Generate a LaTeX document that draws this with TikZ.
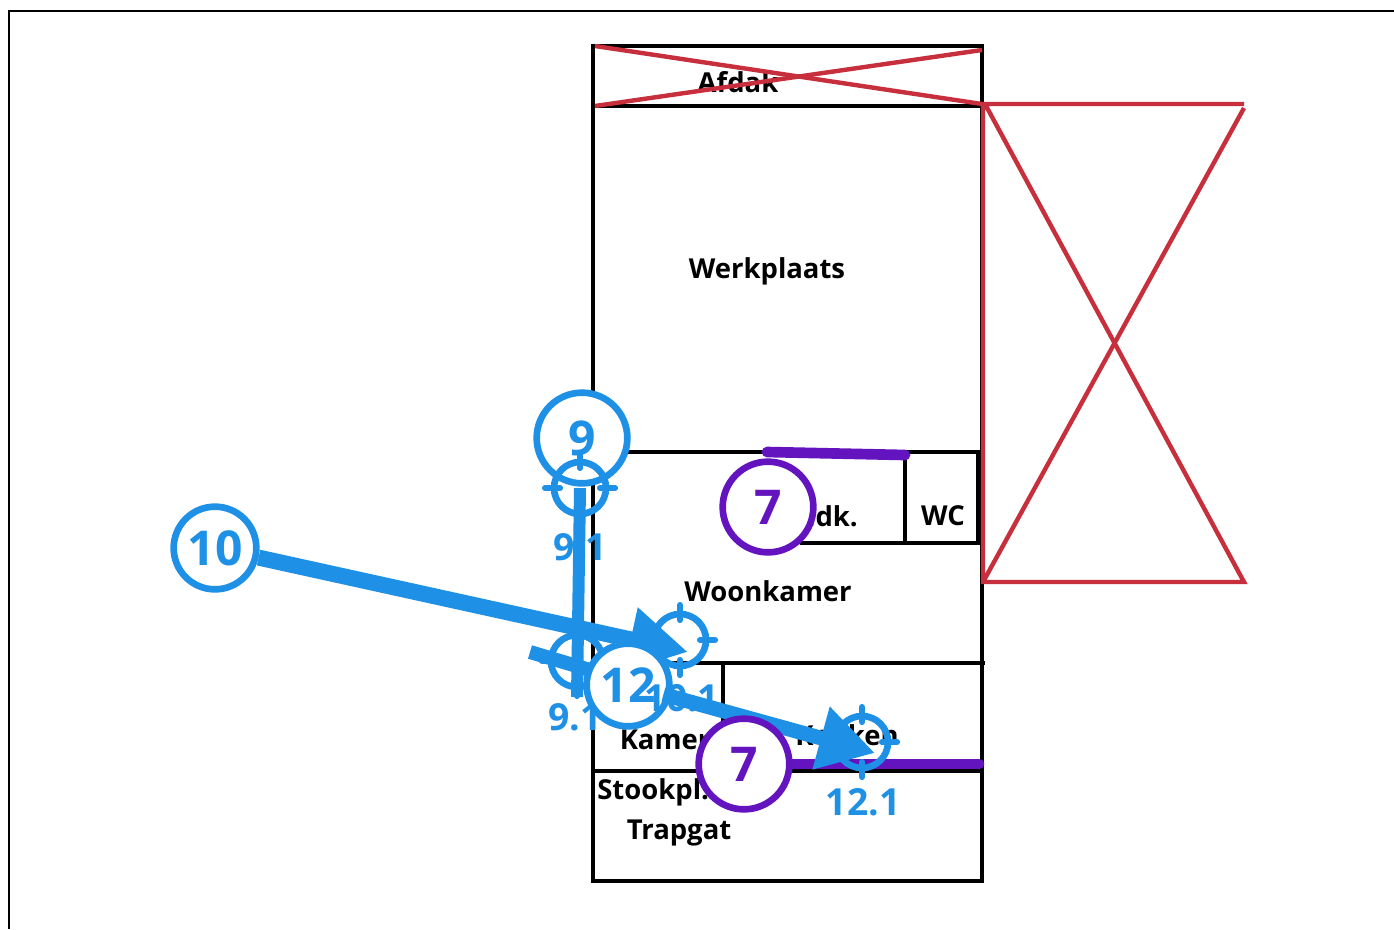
\documentclass[tikz,border=0pt]{standalone}
\usepackage{fontspec}
\setmainfont{Open Sans}
\usetikzlibrary{arrows.meta}
\definecolor{bl}{HTML}{1E90E6}
\definecolor{pu}{HTML}{6414BE}
\definecolor{rd}{HTML}{C62F3B}
\tikzset{
 x=0.75pt,y=-0.75pt,
 wall/.style={draw=black,line width=3.7pt},
 redl/.style={draw=rd,line width=3.3pt},
 room/.style={font=\fontsize{20.6}{24}\selectfont\bfseries,text=black,inner sep=0pt},
 bub/.style={circle,draw=#1,fill=white,line width=5pt,inner sep=0pt,text=#1,font=\fontsize{36}{40}\selectfont\bfseries},
 tgl/.style={text=bl,font=\fontsize{28}{34}\selectfont\bfseries,inner sep=0pt},
 tgc/.style={circle,draw=bl,line width=5pt,minimum size=39pt,inner sep=0pt},
 tick/.style={draw=bl,line width=4.6pt,line cap=round},
 purl/.style={draw=pu,line width=8pt,line cap=round},
}
\newcommand{\targ}[3]{%
 \node[tgc] (#1) at (#2,#3) {};
 \draw[tick] (#2,#3-35) -- (#2,#3-20);
 \draw[tick] (#2,#3+35) -- (#2,#3+20);
 \draw[tick] (#2-35,#3) -- (#2-20,#3);
 \draw[tick] (#2+35,#3) -- (#2+20,#3);
}
\begin{document}
\begin{tikzpicture}
\useasboundingbox (0,0) rectangle (1394,929);
\fill[white] (0,0) rectangle (1394,929);
% frame
\draw[draw=black,line width=2pt] (9,929) -- (9,11) -- (1394,11);
% plan
\draw[wall] (593,46) rectangle (982,881);
\draw[wall] (593,106) -- (982,106);
\draw[wall] (593,452) -- (978,452) -- (978,543) -- (800,543);
\draw[wall] (905,452) -- (905,543);
\draw[wall] (593,663) -- (985,663);
\draw[wall] (723,663) -- (723,771);
\draw[wall] (593,771) -- (982,771);
% rooms
\node[room] (afdak) at (738,82) {Afdak};
\node[room] (werk) at (767,271) {Werkplaats};
\node[room,anchor=east] (badk) at (858,516) {Badk.};
\node[room] (wc) at (943,516) {WC};
\node[room] (woon) at (768,591) {Woonkamer};
\node[room] (kamer) at (665,740) {Kamer};
\node[room,anchor=east] (keuken) at (899,735) {Keuken};
\node[room,anchor=west] (stook) at (597,792) {Stookpl.};
\node[room] (trap) at (679,833) {Trapgat};
% red crosses
\draw[redl] (595,46) -- (982,104);
\draw[redl] (595,106) -- (982,50);
\draw[redl] (1244,104) -- (983,104) -- (983,582) -- (1244,582) -- (985,104);
\draw[redl] (983,582) -- (1244,108);
% purple lines
\coordinate (p1a) at (767,452); \coordinate (p1b) at (905,455);
\coordinate (p2a) at (790,764); \coordinate (p2b) at (979,764);
\draw[purl] (p1a) -- (p1b);
\draw[purl] (p2a) -- (p2b);
% callout 9 and target
\node[bub=bl,minimum size=68pt] (n9) at (582,438) {9};
\targ{t91a}{580}{488}
\node[tgl] (l91a) at (580,547) {9.1};
\targ{t91b}{577}{661}
\node[tgl] (l91b) at (575,717) {9.1};
\targ{t101}{680}{640}
\targ{t121}{862}{742}
\node[tgl] (l121) at (863,802) {12.1};
% callout 10
\node[bub=bl,minimum size=62pt] (n10) at (215,548) {10};
\coordinate (tip10) at (688,652);
\coordinate (tip12) at (875,753);
\coordinate (end9) at (577,697);
\coordinate (s1) at (530,652);
\coordinate (s2) at (590,670);
% arrows
\draw[draw=bl,line width=9pt] (t91a.center) -- (end9);
\draw[draw=bl,line width=10.5pt] (s1) -- (s2);
\draw[draw=bl,line width=12pt,-{Triangle[length=44pt,width=46pt]}] (n10) -- (tip10);
\node[bub=bl,minimum size=62pt] (n12) at (628,685) {12};
\node[tgl] (l101) at (682,698) {10.1};
\draw[draw=bl,line width=11pt,-{Triangle[length=42pt,width=46pt]},shorten <=-6pt] (n12.-15) -- (tip12);
\node[bub=pu,minimum size=68pt] (n7a) at (768,507) {7};
\node[bub=pu,minimum size=68pt] (n7b) at (744,764) {7};
\end{tikzpicture}
\end{document}
